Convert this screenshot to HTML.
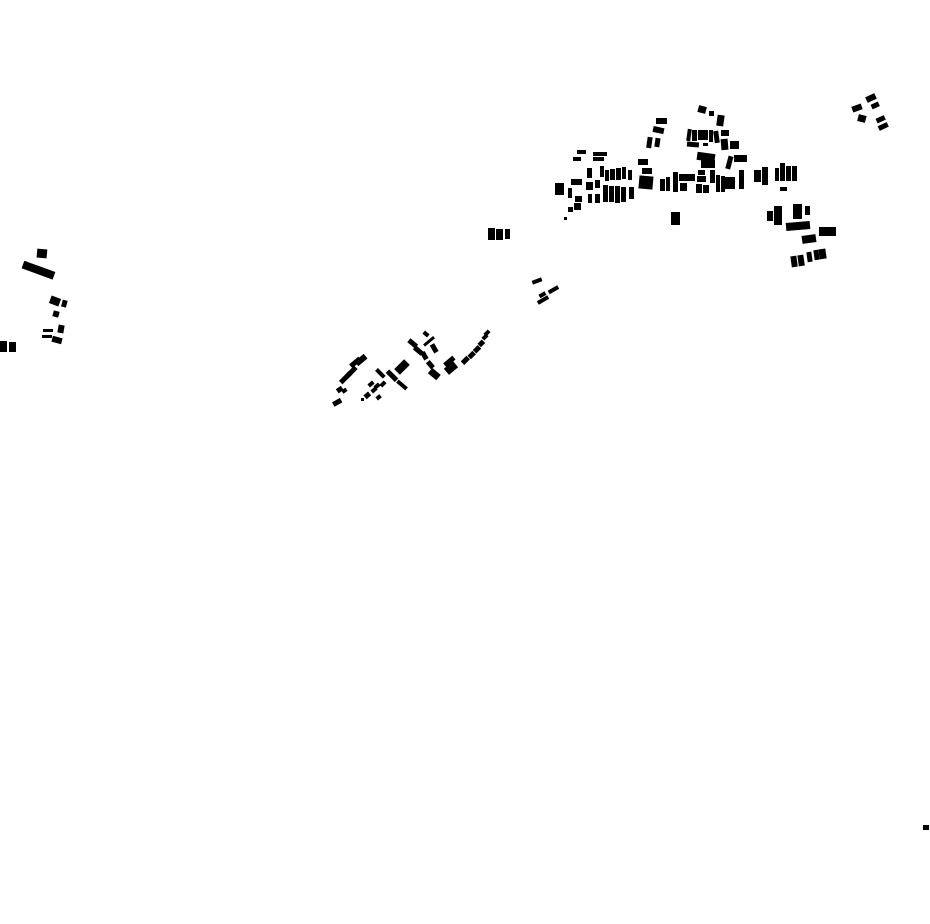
<!DOCTYPE html>
<html><head><meta charset="utf-8"><style>html,body{margin:0;padding:0;background:#fff}svg{display:block}</style></head>
<body>
<svg width="930" height="924" viewBox="0 0 930 924" xmlns="http://www.w3.org/2000/svg" fill="#000">
<!-- left cluster -->
<rect x="37" y="249" width="10" height="9" transform="rotate(5 42 253)"/>
<rect x="22" y="266" width="33" height="8" transform="rotate(20 38 270)"/>
<rect x="50" y="297" width="10" height="8" transform="rotate(20 55 301)"/>
<rect x="62" y="300" width="5" height="7" transform="rotate(15 64 303)"/>
<rect x="53" y="311" width="6" height="6" transform="rotate(15 56 314)"/>
<rect x="58" y="325" width="6" height="8" transform="rotate(10 61 329)"/>
<rect x="43" y="329" width="10" height="3"/>
<rect x="42" y="335" width="10" height="3"/>
<rect x="52" y="337" width="10" height="6" transform="rotate(15 57 340)"/>
<rect x="0" y="341" width="7" height="11"/>
<rect x="9" y="342" width="7" height="10"/>
<!-- isolated -->
<rect x="488" y="228" width="7" height="12"/>
<rect x="496" y="229" width="7" height="11"/>
<rect x="505" y="229" width="5" height="10"/>
<rect x="532" y="279" width="10" height="4" transform="rotate(-20 537 281)"/>
<rect x="548" y="288" width="11" height="4" transform="rotate(-30 553 290)"/>
<rect x="539" y="293" width="7" height="4" transform="rotate(-30 542 295)"/>
<rect x="537" y="298" width="12" height="4" transform="rotate(-30 543 300)"/>
<rect x="923" y="825" width="6" height="5"/>
<!-- lower cluster -->
<g>
<rect x="333" y="400" width="9" height="5" transform="rotate(-30 337 403)"/>
<rect x="337" y="387" width="6" height="5" transform="rotate(-35 340 390)"/>
<rect x="342" y="389" width="5" height="4" transform="rotate(-35 344 391)"/>
<rect x="339" y="375" width="14" height="5" transform="rotate(-45 346 378)"/>
<rect x="345" y="369" width="13" height="5" transform="rotate(-45 352 372)"/>
<rect x="349" y="360" width="12" height="5" transform="rotate(-40 355 362)"/>
<rect x="355" y="357" width="12" height="6" transform="rotate(-40 361 360)"/>
<rect x="364" y="393" width="6" height="5" transform="rotate(-40 367 395)"/>
<rect x="371" y="388" width="6" height="4" transform="rotate(-40 374 390)"/>
<rect x="376" y="395" width="5" height="4" transform="rotate(-40 379 397)"/>
<rect x="361" y="398" width="3" height="3"/>
<rect x="368" y="382" width="6" height="4" transform="rotate(-40 371 384)"/>
<rect x="374" y="384" width="6" height="4" transform="rotate(-40 377 386)"/>
<rect x="375" y="371" width="11" height="4" transform="rotate(45 380 373)"/>
<rect x="380" y="382" width="6" height="4" transform="rotate(-45 383 384)"/>
<rect x="386" y="373" width="13" height="5" transform="rotate(45 392 375)"/>
<rect x="395" y="363" width="14" height="8" transform="rotate(-45 402 367)"/>
<rect x="396" y="383" width="12" height="4" transform="rotate(40 402 385)"/>
<rect x="408" y="341" width="10" height="5" transform="rotate(40 413 343)"/>
<rect x="413" y="348" width="10" height="5" transform="rotate(40 418 351)"/>
<rect x="423" y="332" width="6" height="4" transform="rotate(40 426 334)"/>
<rect x="423" y="340" width="13" height="3" transform="rotate(-40 429 342)"/>
<rect x="420" y="353" width="8" height="5" transform="rotate(60 424 356)"/>
<rect x="429" y="346" width="9" height="5" transform="rotate(60 434 349)"/>
<rect x="426" y="362" width="8" height="5" transform="rotate(50 430 365)"/>
<rect x="429" y="371" width="11" height="7" transform="rotate(40 435 374)"/>
<rect x="443" y="359" width="12" height="5" transform="rotate(-40 449 361)"/>
<rect x="445" y="364" width="12" height="8" transform="rotate(-40 451 368)"/>
<rect x="461" y="358" width="8" height="5" transform="rotate(-45 465 360)"/>
<rect x="468" y="353" width="7" height="5" transform="rotate(-45 471 355)"/>
<rect x="474" y="347" width="7" height="5" transform="rotate(-45 477 350)"/>
<rect x="478" y="341" width="6" height="5" transform="rotate(-45 481 343)"/>
<rect x="482" y="335" width="6" height="4" transform="rotate(-45 485 337)"/>
<rect x="484" y="331" width="6" height="4" transform="rotate(-45 487 333)"/>
</g>
<!-- top cluster -->
<rect x="698" y="106" width="8" height="7" transform="rotate(15 702 110)"/>
<rect x="709" y="111" width="5" height="5"/>
<rect x="717" y="115" width="7" height="11" transform="rotate(8 720 120)"/>
<rect x="656" y="118" width="11" height="6"/>
<rect x="653" y="127" width="11" height="6" transform="rotate(12 658 130)"/>
<rect x="647" y="137" width="5" height="11" transform="rotate(8 649 142)"/>
<rect x="655" y="138" width="5" height="9" transform="rotate(8 657 142)"/>
<rect x="687" y="129" width="4" height="12" transform="rotate(8 689 135)"/>
<rect x="692" y="130" width="5" height="11"/>
<rect x="698" y="130" width="10" height="10"/>
<rect x="709" y="130" width="4" height="12"/>
<rect x="714" y="131" width="5" height="12" transform="rotate(-8 716 137)"/>
<rect x="687" y="142" width="12" height="5" transform="rotate(5 693 144)"/>
<rect x="703" y="143" width="5" height="3"/>
<rect x="721" y="130" width="8" height="6"/>
<rect x="721" y="139" width="7" height="11" transform="rotate(-5 724 144)"/>
<rect x="730" y="141" width="9" height="8"/>
<rect x="697" y="153" width="18" height="8" transform="rotate(8 706 157)"/>
<rect x="701" y="160" width="14" height="8"/>
<rect x="727" y="156" width="5" height="13" transform="rotate(15 729 162)"/>
<rect x="734" y="155" width="13" height="7"/>
<rect x="577" y="150" width="9" height="4"/>
<rect x="573" y="157" width="8" height="4"/>
<rect x="593" y="152" width="14" height="4"/>
<rect x="593" y="157" width="11" height="4"/>
<rect x="638" y="159" width="10" height="6"/>
<rect x="642" y="168" width="10" height="6"/>
<rect x="639" y="176" width="14" height="13" transform="rotate(5 646 182)"/>
<rect x="555" y="183" width="9" height="12"/>
<rect x="571" y="179" width="11" height="6"/>
<rect x="568" y="188" width="4" height="10"/>
<rect x="575" y="196" width="7" height="6"/>
<rect x="574" y="203" width="7" height="7"/>
<rect x="568" y="207" width="5" height="5"/>
<rect x="564" y="217" width="3" height="3"/>
<rect x="587" y="168" width="5" height="10"/>
<rect x="600" y="166" width="4" height="11"/>
<rect x="605" y="170" width="4" height="11"/>
<rect x="610" y="169" width="5" height="11"/>
<rect x="616" y="168" width="5" height="12"/>
<rect x="622" y="167" width="4" height="12"/>
<rect x="628" y="170" width="4" height="10"/>
<rect x="586" y="182" width="7" height="8"/>
<rect x="595" y="180" width="5" height="8"/>
<rect x="588" y="194" width="4" height="9"/>
<rect x="595" y="194" width="5" height="9"/>
<rect x="603" y="185" width="5" height="17"/>
<rect x="609" y="186" width="5" height="16"/>
<rect x="615" y="186" width="5" height="17"/>
<rect x="621" y="187" width="5" height="15"/>
<rect x="629" y="187" width="5" height="12"/>
<rect x="660" y="179" width="5" height="12"/>
<rect x="666" y="177" width="4" height="14"/>
<rect x="673" y="172" width="5" height="20"/>
<rect x="679" y="174" width="16" height="7"/>
<rect x="680" y="183" width="7" height="8"/>
<rect x="698" y="170" width="7" height="5"/>
<rect x="697" y="176" width="9" height="6"/>
<rect x="696" y="184" width="6" height="9"/>
<rect x="703" y="185" width="6" height="8"/>
<rect x="710" y="170" width="5" height="13"/>
<rect x="716" y="175" width="4" height="17"/>
<rect x="721" y="176" width="4" height="16"/>
<rect x="725" y="177" width="10" height="12"/>
<rect x="739" y="170" width="5" height="19"/>
<rect x="754" y="170" width="7" height="12"/>
<rect x="762" y="167" width="6" height="18"/>
<rect x="775" y="168" width="4" height="13"/>
<rect x="780" y="163" width="5" height="18"/>
<rect x="786" y="166" width="5" height="15"/>
<rect x="792" y="166" width="5" height="15"/>
<rect x="780" y="187" width="7" height="4"/>
<rect x="671" y="212" width="9" height="13"/>
<rect x="767" y="211" width="6" height="10"/>
<rect x="774" y="206" width="8" height="19"/>
<rect x="793" y="204" width="9" height="15"/>
<rect x="805" y="206" width="5" height="9"/>
<rect x="786" y="222" width="24" height="8" transform="rotate(-5 798 226)"/>
<rect x="819" y="227" width="17" height="9"/>
<rect x="802" y="235" width="14" height="8" transform="rotate(-8 809 239)"/>
<rect x="791" y="256" width="6" height="11" transform="rotate(-8 794 261)"/>
<rect x="798" y="255" width="6" height="11" transform="rotate(-8 801 260)"/>
<rect x="807" y="252" width="5" height="10" transform="rotate(-8 809 257)"/>
<rect x="814" y="250" width="5" height="10" transform="rotate(-8 816 255)"/>
<rect x="819" y="249" width="7" height="10" transform="rotate(-8 822 254)"/>
<!-- top right -->
<rect x="852" y="105" width="10" height="6" transform="rotate(-20 857 108)"/>
<rect x="866" y="95" width="10" height="6" transform="rotate(-25 871 98)"/>
<rect x="871" y="103" width="8" height="5" transform="rotate(-25 875 105)"/>
<rect x="858" y="115" width="8" height="7" transform="rotate(15 862 118)"/>
<rect x="876" y="117" width="9" height="5" transform="rotate(-25 880 119)"/>
<rect x="878" y="124" width="10" height="5" transform="rotate(-25 883 126)"/>
</svg>
</body></html>
